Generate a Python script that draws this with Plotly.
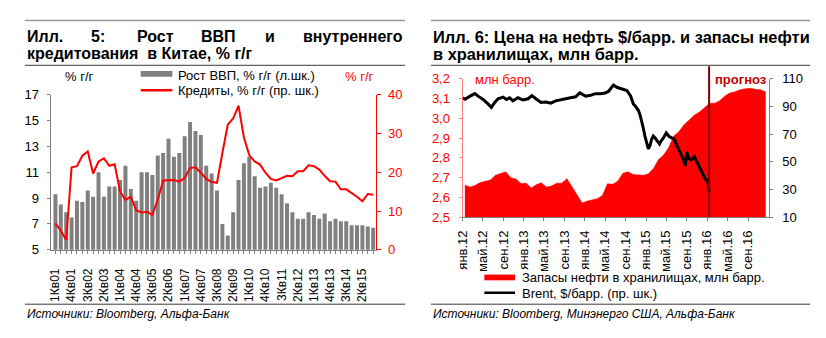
import plotly.graph_objects as go

# ---------------- Left panel: China GDP and credit growth ----------------
quarters = [f"{q}Кв{y:02d}" for y in range(1, 16) for q in range(1, 5)]

gdp_yoy = [9.3, 8.5, 7.9, 7.5, 8.8, 8.7, 9.6, 9.1, 11.0, 9.1,
           9.9, 9.9, 10.4, 11.5, 9.7, 8.8, 11.0, 11.0, 10.8, 12.3,
           12.5, 13.6, 12.2, 12.5, 13.8, 14.9, 14.2, 13.9, 11.5, 10.9,
           9.6, 7.0, 6.1, 7.9, 10.4, 11.7, 12.2, 10.7, 9.8, 9.9,
           10.2, 9.8, 9.3, 8.6, 7.9, 7.4, 7.4, 7.9, 7.7, 7.4,
           7.8, 7.2, 7.4, 7.2, 7.2, 6.9, 6.9, 6.9, 6.8, 6.7]

credit_yoy = [6.8, 4.9, 2.5, 21.3, 21.6, 24.3, 25.4, 19.7, 22.8, 23.6,
              21.7, 22.1, 15.0, 12.9, 13.7, 10.2, 9.6, 9.8, 9.0, 12.9,
              17.9, 17.9, 18.0, 17.6, 18.5, 21.1, 21.3, 19.9, 18.3, 17.5,
              17.3, 25.0, 32.3, 33.9, 37.2, 29.0, 24.4, 22.8, 22.0, 19.9,
              18.3, 17.9, 18.4, 19.1, 19.0, 20.3, 20.3, 21.8, 21.6, 20.7,
              19.1, 17.7, 17.6, 15.6, 15.6, 14.7, 13.7, 12.5, 14.4, 14.2]

quarter_ticktext = [q if i % 3 == 0 else "" for i, q in enumerate(quarters)]

# ---------------- Right panel: oil stocks and Brent ----------------
stock_dates = [f"{y}-{m:02d}-15" for y in range(2012, 2017) for m in range(1, 13)]
oil_stocks = [2.661, 2.653, 2.660, 2.675, 2.682, 2.688, 2.712, 2.720, 2.730, 2.700,
              2.693, 2.670, 2.672, 2.648, 2.664, 2.674, 2.653, 2.658, 2.672, 2.672,
              2.695, 2.655, 2.615, 2.572, 2.582, 2.588, 2.594, 2.610, 2.669, 2.667,
              2.682, 2.722, 2.730, 2.716, 2.714, 2.712, 2.720, 2.748, 2.790, 2.814,
              2.851, 2.911, 2.932, 2.967, 2.991, 3.015, 3.031, 3.051, 3.076, 3.076,
              3.088, 3.112, 3.128, 3.134, 3.144, 3.149, 3.151, 3.147, 3.144, 3.133]

brent_dates = ['2012-01-01', '2012-01-16', '2012-02-15', '2012-03-14', '2012-04-03',
               '2012-05-03', '2012-06-02', '2012-06-21', '2012-07-11', '2012-07-31',
               '2012-08-30', '2012-09-19', '2012-10-08', '2012-10-28', '2012-11-27',
               '2012-12-27', '2013-01-26', '2013-02-18', '2013-03-14', '2013-04-13',
               '2013-05-12', '2013-06-11', '2013-07-10', '2013-08-09', '2013-09-08',
               '2013-10-07', '2013-11-06', '2013-12-01', '2014-01-05', '2014-02-04',
               '2014-03-03', '2014-04-02', '2014-05-01', '2014-05-21', '2014-06-20',
               '2014-07-10', '2014-08-09', '2014-09-08', '2014-10-01', '2014-10-17',
               '2014-10-27', '2014-11-16', '2014-11-26', '2014-12-05', '2014-12-15',
               '2014-12-25', '2015-01-04', '2015-01-14', '2015-01-24', '2015-02-03',
               '2015-02-13', '2015-02-23', '2015-03-07', '2015-03-22', '2015-04-01',
               '2015-04-15', '2015-05-01', '2015-05-16', '2015-05-30', '2015-06-19',
               '2015-06-29', '2015-07-14', '2015-07-28', '2015-08-11', '2015-08-23',
               '2015-09-01', '2015-09-12', '2015-09-26', '2015-10-16', '2015-10-30',
               '2015-11-15', '2015-12-04', '2015-12-20', '2016-01-03', '2016-01-13']
brent_price = [96.2, 95.1, 97.4, 99.2, 97.4, 95.0, 91.6, 89.3, 92.8, 95.5,
               96.7, 95.0, 96.2, 94.0, 96.2, 94.6, 95.5, 97.8, 95.5, 92.8,
               93.2, 92.3, 94.0, 95.0, 95.5, 96.2, 96.9, 99.7, 97.4, 98.0,
               99.2, 99.2, 99.7, 100.8, 105.4, 103.8, 102.9, 101.5, 97.4, 91.6,
               90.5, 87.0, 83.6, 80.0, 74.4, 68.6, 62.9, 59.4, 61.7, 66.3,
               68.6, 67.4, 65.2, 62.9, 65.2, 67.4, 70.9, 68.6, 67.4, 66.3,
               62.9, 58.7, 56.0, 51.8, 47.2, 57.1, 52.5, 51.4, 53.6, 50.2,
               45.6, 41.0, 37.6, 36.4, 28.4]

date_tickvals = ['2012-01-01', '2012-05-01', '2012-09-01', '2013-01-01', '2013-05-01',
                 '2013-09-01', '2014-01-01', '2014-05-01', '2014-09-01', '2015-01-01',
                 '2015-05-01', '2015-09-01', '2016-01-01', '2016-05-01', '2016-09-01']
date_ticktext = ['янв.12', 'май.12', 'сен.12', 'янв.13', 'май.13', 'сен.13',
                 'янв.14', 'май.14', 'сен.14', 'янв.15', 'май.15', 'сен.15',
                 'янв.16', 'май.16', 'сен.16']

stock_tickvals = [2.5, 2.6, 2.7, 2.8, 2.9, 3.0, 3.1, 3.2]
stock_ticktext = ['2,5', '2,6', '2,7', '2,8', '2,9', '3,0', '3,1', '3,2']

forecast_start = '2016-01-12'

# ---------------- page geometry helpers (pixels -> paper) ----------------
W, H = 826, 338


def X(px):
    return px / W


def Y(py):
    return 1 - py / H


FONT = "Liberation Sans, Arial, sans-serif"
GREY = "#808080"
RED = "#FF0000"

fig = go.Figure()

fig.add_trace(go.Bar(x=quarters, y=gdp_yoy, marker=dict(color=GREY, line=dict(width=0)),
                     xaxis="x", yaxis="y", name="Рост ВВП, % г/г (л.шк.)"))
fig.add_trace(go.Scatter(x=quarters, y=credit_yoy, mode="lines",
                         line=dict(color=RED, width=2), xaxis="x", yaxis="y2",
                         name="Кредиты, % г/г (пр. шк.)"))

fig.add_trace(go.Scatter(x=stock_dates, y=oil_stocks, mode="lines", fill="tozeroy",
                         fillcolor=RED, line=dict(color=RED, width=0.5),
                         xaxis="x2", yaxis="y3",
                         name="Запасы нефти в хранилищах, млн барр."))
fig.add_trace(go.Scatter(x=brent_dates, y=brent_price, mode="lines",
                         line=dict(color="black", width=3), xaxis="x2", yaxis="y4",
                         name="Brent, $/барр. (пр. шк.)"))

axis_common = dict(showgrid=False, zeroline=False, showline=True, linewidth=1,
                   ticks="outside", ticklen=3)

fig.update_layout(
    width=W, height=H,
    margin=dict(l=0, r=0, t=0, b=0),
    paper_bgcolor="white", plot_bgcolor="white",
    showlegend=False,
    separators=", ",
    bargap=0.26,
    font=dict(family=FONT, size=13, color="black"),
    xaxis=dict(axis_common, domain=[X(43), X(372)], anchor="y", type="category",
               range=[-0.9, 59.6], tickmode="array", tickvals=quarters,
               ticktext=quarter_ticktext, tickangle=-90, linecolor=GREY,
               tickcolor=GREY, tickfont=dict(size=12), ticklabelstandoff=10),
    yaxis=dict(axis_common, domain=[Y(254), Y(92)], anchor="x", range=[5, 17],
               tick0=5, dtick=2, linecolor=GREY, tickcolor=GREY,
               tickfont=dict(size=13), ticklabelstandoff=5),
    yaxis2=dict(axis_common, overlaying="y", anchor="x", side="right", range=[0, 40],
                dtick=10, linecolor=RED, tickcolor=RED, ticklen=4,
                tickfont=dict(size=13, color=RED), ticklabelstandoff=4),
    xaxis2=dict(axis_common, domain=[X(459), X(768)], anchor="y3", type="date",
                range=["2012-01-01", "2017-01-01"], tickmode="array",
                tickvals=date_tickvals, ticktext=date_ticktext, tickangle=-90,
                linecolor=GREY, tickcolor=GREY, tickfont=dict(size=13),
                ticklabelstandoff=4),
    yaxis3=dict(axis_common, domain=[Y(220), Y(75)], anchor="x2", range=[2.5, 3.2],
                tickmode="array", tickvals=stock_tickvals, ticktext=stock_ticktext,
                linecolor="#FF8080", tickcolor="#FF8080",
                tickfont=dict(size=13, color=RED), ticklabelstandoff=6),
    yaxis4=dict(axis_common, overlaying="y3", anchor="x2", side="right",
                range=[10, 110], tick0=10, dtick=20, linecolor=GREY, tickcolor=GREY,
                tickfont=dict(size=13), ticklabelstandoff=7),
)

shapes = []
annotations = []


def hline(x0, x1, y, color, width):
    shapes.append(dict(type="line", xref="paper", yref="paper", x0=X(x0), x1=X(x1),
                       y0=Y(y), y1=Y(y), line=dict(color=color, width=width)))


def text(x, y, s, size=13, color="black", anchor="left", bold=False, italic=False):
    if bold:
        s = f"<b>{s}</b>"
    if italic:
        s = f"<i>{s}</i>"
    annotations.append(dict(xref="paper", yref="paper", x=X(x), y=Y(y), text=s,
                            showarrow=False, xanchor=anchor, yanchor="middle",
                            font=dict(family=FONT, size=size, color=color)))


# frame lines of both panels
for x0, x1 in [(17, 401), (427, 810)]:
    hline(x0, x1, 14, "#9a9a9a", 1.5)
    hline(x0, x1, 61, "#3a3a3a", 1)
    hline(x0, x1, 311, "#3a3a3a", 1)

# panel titles (first line of the left one is justified word by word)
for word, x in [("Илл.", 17), ("5:", 82), ("Рост", 128), ("ВВП", 193), ("и", 257)]:
    text(x, 31, word, size=16, bold=True)
text(401, 31, "внутреннего", size=16, bold=True, anchor="right")
text(17, 49, "кредитования&nbsp; в Китае, % г/г", size=16, bold=True)
text(427, 31, "Илл. 6: Цена на нефть $/барр. и запасы нефти", size=16.4, bold=True)
text(427, 49, "в хранилищах, млн барр.", size=16.4, bold=True)

# left panel legend and unit labels
text(56, 73, "% г/г", size=13)
shapes.append(dict(type="rect", xref="paper", yref="paper", x0=X(134), x1=X(166),
                   y0=Y(73), y1=Y(67), fillcolor=GREY, line=dict(width=0)))
text(170, 72, "Рост ВВП, % г/г (л.шк.)", size=13)
text(338, 73, "% г/г", size=13, color=RED)
hline(134, 166, 87, RED, 2.5)
text(170, 87, "Кредиты, % г/г (пр. шк.)", size=13)

# right panel labels, forecast marker and legend
text(470, 76, "млн барр.", size=13, color=RED)
shapes.append(dict(type="line", xref="x2", yref="paper", x0=forecast_start,
                   x1=forecast_start, y0=Y(220), y1=Y(62),
                   line=dict(color="#7a0000", width=2)))
text(712, 76, "прогноз", size=13, color="#C00000", bold=True)

shapes.append(dict(type="rect", xref="paper", yref="paper", x0=X(481), x1=X(512),
                   y0=Y(286), y1=Y(280), fillcolor=RED, line=dict(width=0)))
text(517, 283, "Запасы нефти в хранилищах, млн барр.", size=13)
hline(481, 512, 299, "black", 2.5)
text(517, 300, "Brent, $/барр. (пр. шк.)", size=13)

# sources
text(17, 321, "Источники: Bloomberg, Альфа-Банк", size=12, italic=True)
text(427, 321, "Источники: Bloomberg, Минэнерго США, Альфа-Банк", size=12, italic=True)

fig.update_layout(shapes=shapes, annotations=annotations)

fig.write_html("out.html")
